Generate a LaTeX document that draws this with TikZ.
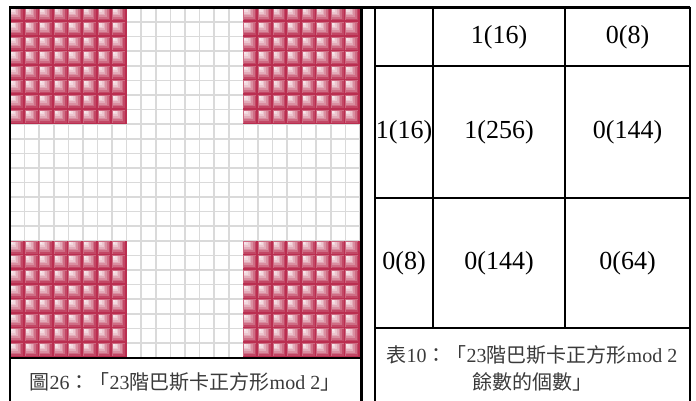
\documentclass[tikz,border=0pt]{standalone}
\usepackage{fontspec}
\setmainfont{Liberation Serif}
\newfontfamily\cjk{Noto Sans CJK TC}
\definecolor{cred}{HTML}{BA2E50}
\definecolor{gridgray}{HTML}{DADADA}
\definecolor{captext}{HTML}{3A3A3A}
\begin{document}
\begin{tikzpicture}[x=1pt,y=-1pt,
  panelline/.style={line width=2.5pt,black},
  tabline/.style={line width=2pt,black},
  gridline/.style={line width=1.6pt,gridgray},
  numtext/.style={font=\fontsize{26}{30}\selectfont,text=black,inner sep=0pt},
  captiontext/.style={font=\fontsize{20}{24}\selectfont,text=captext,inner sep=0pt,align=center}]
\useasboundingbox (0,0) rectangle (696,401);
\pgfmathsetmacro\s{350/24}
\pgfmathsetmacro\si{\s-2.6}
% grid lines
\foreach \i in {0,...,24}{
  \draw[gridline] (10+\i*\s,7.5) -- (10+\i*\s,358);
  \draw[gridline] (10,7.5+\i*\s) -- (361,7.5+\i*\s);
}
% pink blocks
\foreach \bx in {0,16}{\foreach \by in {0,16}{\foreach \i in {0,...,7}{\foreach \j in {0,...,7}{
  \pgfmathsetmacro\xx{10+(\bx+\i)*\s}
  \pgfmathsetmacro\yy{7.5+(\by+\j)*\s}
  \fill[cred] (\xx,\yy) rectangle ++(\s,\s);
  \fill[white!28!cred] (\xx,\yy) rectangle ++(\s-1.6,\s-1.6);
  \foreach \f/\p in {1/12,0.86/30,0.72/46,0.58/60,0.44/72,0.3/82,0.16/88}{
    \fill[white!\p!cred] (\xx+1,\yy+1) rectangle ++(\f*\si,\f*\si);
  }
}}}}
% left panel borders
\coordinate (tl) at (10,7.5);
\coordinate (bl) at (10,401);
\coordinate (tr) at (361.5,7.5);
\coordinate (br) at (361.5,401);
\coordinate (gl) at (10,358);
\coordinate (gr) at (361.5,358);
\draw[panelline] (bl) -- (tl) -- (690,7.5);
\draw[panelline] (tr) -- (br);
\draw[panelline] (gl) -- (gr);
\node[captiontext] (cap1) at (185,382) {{\cjk 圖}26{\cjk ：「}23{\cjk 階巴斯卡正方形}mod 2{\cjk 」}};
% table
\draw[tabline] (374.5,7.5) -- (374.5,401);
\draw[tabline] (690,7.5) -- (690,401);
\draw[tabline] (433,7.5) -- (433,328);
\draw[tabline] (565,7.5) -- (565,328);
\draw[tabline] (374.5,66) -- (690,66);
\draw[tabline] (374.5,198) -- (690,198);
\draw[tabline] (374.5,328) -- (690,328);
\node[numtext] (c12) at (499,37) {1(16)};
\node[numtext] (c13) at (627.5,37) {0(8)};
\node[numtext] (c21) at (404,132) {1(16)};
\node[numtext] (c22) at (499,132) {1(256)};
\node[numtext] (c23) at (627.5,132) {0(144)};
\node[numtext] (c31) at (404,263) {0(8)};
\node[numtext] (c32) at (499,263) {0(144)};
\node[numtext] (c33) at (627.5,263) {0(64)};
\node[captiontext] (cap2a) at (532,355) {{\cjk 表}10{\cjk ：「}23{\cjk 階巴斯卡正方形}mod 2};
\node[captiontext] (cap2b) at (532,382) {{\cjk 餘數的個數」}};
\end{tikzpicture}
\end{document}
